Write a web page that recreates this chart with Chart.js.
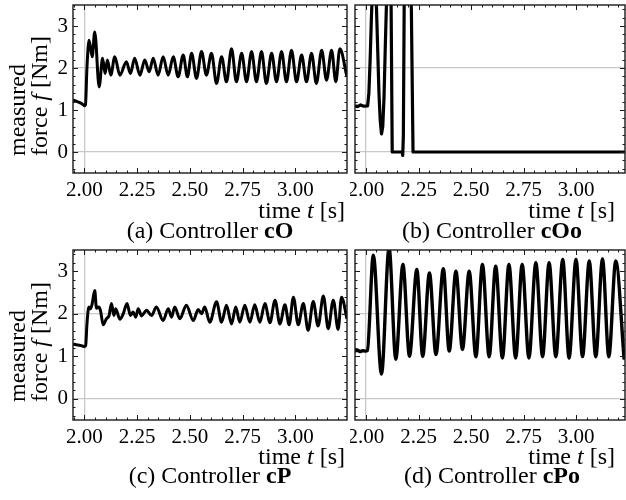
<!DOCTYPE html>
<html>
<head>
<meta charset="utf-8">
<script src="https://cdn.jsdelivr.net/npm/chart.js@4"></script>
<style>
  body { margin:0; background:#fff; }
  #fig { position:relative; width:626px; height:500px; overflow:hidden; font-family:"Liberation Serif","Times New Roman",serif; color:#000; }
  #fig canvas { position:absolute; }
  .lbl { position:absolute; white-space:nowrap; font-size:24px; line-height:1; }
  .yl { transform:translate(-50%,-50%) rotate(-90deg); }
  .cap { transform:translateX(-50%); }
</style>
</head>
<body>
<div id="fig">
  <canvas id="cA" width="349" height="205" style="left:0;top:0"></canvas>
  <canvas id="cB" width="276" height="205" style="left:350px;top:0"></canvas>
  <canvas id="cC" width="349" height="205" style="left:0;top:245px"></canvas>
  <canvas id="cD" width="276" height="205" style="left:350px;top:245px"></canvas>

  <div class="lbl yl" style="left:17px;top:110px">measured</div>
  <div class="lbl yl" style="left:39px;top:96px">force <i>f</i> [Nm]</div>
  <div class="lbl yl" style="left:17px;top:356px">measured</div>
  <div class="lbl yl" style="left:39px;top:342px">force <i>f</i> [Nm]</div>

  <div class="lbl" style="right:281px;top:198px">time <i>t</i> [s]</div>
  <div class="lbl" style="right:11px;top:198px">time <i>t</i> [s]</div>
  <div class="lbl" style="right:281px;top:444px">time <i>t</i> [s]</div>
  <div class="lbl" style="right:11px;top:444px">time <i>t</i> [s]</div>

  <div class="lbl cap" style="left:210px;top:218px">(a) Controller <b>cO</b></div>
  <div class="lbl cap" style="left:492px;top:218px">(b) Controller <b>cOo</b></div>
  <div class="lbl cap" style="left:210px;top:463px">(c) Controller <b>cP</b></div>
  <div class="lbl cap" style="left:492px;top:463px">(d) Controller <b>cPo</b></div>
</div>
<script>
// measured force f [Nm] over time t [s]
const T_CO = [1.946,1.961,1.976,1.991,2.000,2.005,2.012,2.022,2.037,2.049,2.070,2.086,2.098,2.109,2.125,
  2.144,2.168,2.199,2.218,2.238,2.263,2.286,2.307,2.326,2.349,2.373,2.397,2.421,2.444,2.468,2.488,2.508,2.531,
  2.555,2.578,2.602,2.626,2.650,2.673,2.697,2.720,2.745,2.768,2.792,2.815,2.839,2.862,2.887,2.910,2.934,2.957,
  2.981,3.005,3.029,3.052,3.076,3.099,3.124,3.147,3.171,3.191,3.210,3.244];
const F_CO = [1.24,1.21,1.18,1.14,1.10,1.12,2.00,2.66,2.27,2.86,1.55,2.23,1.87,2.19,1.83,
  2.27,1.83,2.15,1.87,2.23,1.83,2.19,1.91,2.23,1.83,2.27,1.83,2.27,1.79,2.31,1.79,2.35,1.75,
  2.39,1.83,2.35,1.63,2.27,1.67,2.46,1.67,2.35,1.67,2.39,1.67,2.39,1.63,2.35,1.67,2.39,1.67,
  2.42,1.67,2.31,1.67,2.35,1.63,2.42,1.71,2.42,1.67,2.46,1.79];

const T_COO = [1.948,1.960,1.975,1.990,2.008,2.014,2.020,2.026,2.032,2.040,2.048,2.055,2.062,2.068,2.074,
  2.080,2.086,2.092,2.098,2.116,2.125,2.172,2.175,2.178,2.182,2.198,2.216,2.224,3.232];
const F_COO = [1.10,1.08,1.12,1.09,1.10,1.40,2.20,3.20,4.00,4.30,3.80,2.60,1.40,0.75,0.43,
  0.60,1.30,2.50,3.60,6.00,0.00,0.00,-0.08,0.40,3.60,6.00,3.40,0.00,0.00];

const T_CP = [1.946,1.961,1.976,1.991,2.000,2.006,2.012,2.021,2.029,2.037,2.049,2.057,2.067,2.076,2.089,
  2.104,2.117,2.128,2.140,2.148,2.168,2.184,2.202,2.218,2.231,2.243,2.255,2.271,2.294,2.318,2.341,2.373,
  2.397,2.413,2.428,2.452,2.483,2.516,2.539,2.555,2.570,2.594,2.626,2.650,2.673,2.697,2.717,2.736,2.760,
  2.784,2.807,2.831,2.855,2.879,2.903,2.926,2.950,2.970,2.990,3.013,3.037,3.060,3.084,3.107,3.132,3.155,
  3.179,3.202,3.218,3.244];
const F_CP = [1.29,1.27,1.26,1.24,1.23,1.25,1.75,2.16,2.12,2.24,2.55,2.13,2.16,2.08,1.74,
  1.88,1.96,2.24,1.96,2.12,1.87,2.00,2.24,1.96,2.04,1.92,2.12,1.95,2.08,1.96,2.16,1.84,
  2.12,1.92,2.16,1.88,2.20,1.84,2.10,2.00,2.16,1.80,2.28,1.80,2.20,1.76,2.16,1.80,2.20,
  1.80,2.21,1.80,2.24,1.79,2.32,1.76,2.21,1.74,2.39,1.74,2.24,1.61,2.29,1.71,2.42,1.65,
  2.32,1.63,2.39,1.88];

const T_CPO = [1.948,1.960,1.972,1.985,1.997,2.007,2.035,2.074,2.110,2.142,2.176,2.207,2.242,2.270,2.302,
  2.333,2.368,2.396,2.428,2.459,2.491,2.523,2.554,2.586,2.617,2.649,2.680,2.712,2.743,2.775,2.808,2.840,
  2.871,2.903,2.936,2.966,2.999,3.030,3.062,3.093,3.125,3.155,3.188,3.228];
const F_CPO = [1.12,1.14,1.11,1.13,1.12,1.14,3.38,0.58,3.55,0.93,3.16,1.00,3.04,1.00,2.96,
  1.04,3.06,1.12,3.00,1.16,3.00,0.99,3.16,0.99,3.12,0.96,3.16,0.96,3.16,0.96,3.20,0.99,
  3.20,0.99,3.28,0.96,3.28,0.99,3.24,0.99,3.29,0.99,3.24,0.92];

const X_TICKS = [2.00, 2.25, 2.50, 2.75, 3.00];
const Y_TICKS = [0, 1, 2, 3];

const GRID = '#c8c8c8';
const FONT = { family: 'Liberation Serif', size: 21 };

// Mathematica style frame: box on all sides, ticks pointing inwards
const frame = {
  id: 'frame',
  afterDraw(chart) {
    const { ctx, chartArea: a, scales: { x, y } } = chart;
    ctx.save();
    ctx.strokeStyle = '#1a1a1a';
    ctx.lineWidth = 1;
    ctx.beginPath();
    for (let k = 38; k <= 66; k++) {
      const px = Math.round(x.getPixelForValue(k * 0.05)) + 0.5;
      if (px <= a.left + 1 || px >= a.right - 1) continue;
      const len = k % 5 === 0 ? 5 : 2.5;
      ctx.moveTo(px, a.bottom); ctx.lineTo(px, a.bottom - len);
      ctx.moveTo(px, a.top); ctx.lineTo(px, a.top + len);
    }
    for (let k = -3; k <= 18; k++) {
      const py = Math.round(y.getPixelForValue(k * 0.2)) + 0.5;
      if (py <= a.top + 1 || py >= a.bottom - 1) continue;
      const len = k % 5 === 0 ? 5 : 2.5;
      ctx.moveTo(a.left, py); ctx.lineTo(a.left + len, py);
      ctx.moveTo(a.right, py); ctx.lineTo(a.right - len, py);
    }
    ctx.stroke();
    ctx.lineWidth = 1.4;
    ctx.strokeRect(a.left, a.top, a.right - a.left, a.bottom - a.top);
    ctx.restore();
  }
};

function panel(id, t, f, o) {
  new Chart(document.getElementById(id), {
    type: 'line',
    data: {
      datasets: [{
        data: t.map((v, i) => ({ x: v, y: f[i] })),
        borderColor: '#000', borderWidth: o.lw, pointRadius: 0, fill: false,
        cubicInterpolationMode: o.smooth ? 'monotone' : 'default', tension: 0,
        borderJoinStyle: 'round', clip: 0
      }]
    },
    options: {
      responsive: false, animation: false,
      layout: { padding: { top: 5, right: o.padR, left: 0, bottom: 0 } },
      plugins: { legend: { display: false }, tooltip: { enabled: false } },
      scales: {
        x: {
          type: 'linear', min: o.xmin, max: o.xmax,
          afterBuildTicks: s => { s.ticks = X_TICKS.map(v => ({ value: v })); },
          afterFit: s => { s.height = o.xH; s.paddingLeft = 0; s.paddingRight = 0; },
          border: { display: false },
          grid: { drawTicks: false, lineWidth: 1.3, color: c => c.tick && Math.abs(c.tick.value - 2) < 1e-6 ? GRID : 'rgba(0,0,0,0)' },
          ticks: { font: FONT, color: '#000', padding: 5, maxRotation: 0, autoSkip: false, callback: v => v.toFixed(2) }
        },
        y: {
          min: -0.5, max: 3.5,
          afterBuildTicks: s => { s.ticks = Y_TICKS.map(v => ({ value: v })); },
          afterFit: s => { s.width = o.yW; s.paddingTop = 0; s.paddingBottom = 0; },
          border: { display: false },
          grid: { drawTicks: false, lineWidth: 1.3, color: c => c.tick && (c.tick.value === 0 || c.tick.value === 2) ? GRID : 'rgba(0,0,0,0)' },
          ticks: { display: o.yLabels, font: FONT, color: '#000', padding: 5, callback: v => String(v) }
        }
      }
    },
    plugins: [frame]
  });
}

panel('cA', T_CO,  F_CO,  { smooth: true,  lw: 3.0, xmin: 1.946, xmax: 3.244, padR: 2, yW: 73, xH: 32, yLabels: true });
panel('cB', T_COO, F_COO, { smooth: false, lw: 3.2, xmin: 1.948, xmax: 3.232, padR: 1, yW: 5,  xH: 32, yLabels: false });
panel('cC', T_CP,  F_CP,  { smooth: true,  lw: 3.0, xmin: 1.946, xmax: 3.244, padR: 2, yW: 73, xH: 30, yLabels: true });
panel('cD', T_CPO, F_CPO, { smooth: true,  lw: 3.4, xmin: 1.948, xmax: 3.232, padR: 1, yW: 5,  xH: 30, yLabels: false });
</script>
</body>
</html>
